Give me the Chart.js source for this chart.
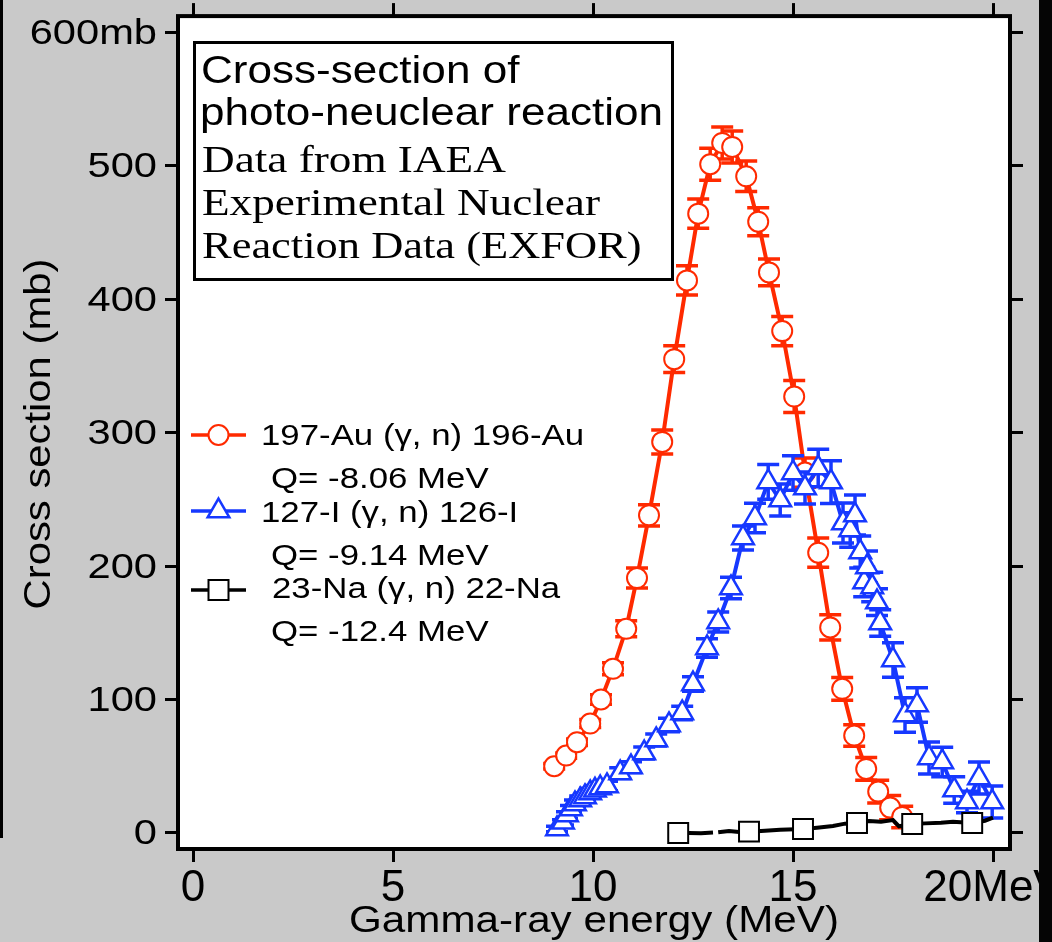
<!DOCTYPE html>
<html>
<head>
<meta charset="utf-8">
<script src="https://cdn.jsdelivr.net/npm/chart.js@4.4.0/dist/chart.umd.min.js"></script>
<style>
  html, body { margin: 0; padding: 0; background: #c9c9c9; }
  #wrap { width: 1052px; height: 942px; }
</style>
</head>
<body>
<div id="wrap"><canvas id="xsec" width="1052" height="942"></canvas></div>
<script>
// Photo-neutron cross sections (EXFOR). Energies in MeV, sigma and errors in mb.

// 197-Au (g, n) 196-Au
const auEnergy = [9.03, 9.33, 9.60, 9.93, 10.20, 10.50, 10.83, 11.10, 11.40, 11.73,
                  12.03, 12.35, 12.63, 12.93, 13.23, 13.48, 13.83, 14.13, 14.40, 14.73,
                  15.03, 15.30, 15.63, 15.93, 16.23, 16.53, 16.83, 17.13, 17.43, 17.73];
const auSigma  = [50, 58, 68, 82, 100, 123, 153, 191, 238, 293,
                  355, 414, 464, 501, 517, 514, 492, 458, 420, 376,
                  327, 270, 210, 154, 108, 73, 48, 31, 19, 12];
const auError  = [2, 2, 2.5, 3, 3.5, 4.5, 6, 7.5, 8, 9,
                  10, 11, 11, 12, 12, 12, 11.5, 10.5, 10, 11,
                  12, 11, 11, 9.5, 8.5, 8, 8.5, 8.5, 9, 8];

// 127-I (g, n) 126-I
const iEnergy = [9.10, 9.25, 9.35, 9.45, 9.55, 9.68, 9.80, 9.93, 10.05, 10.18,
                 10.35, 10.68, 10.95, 11.28, 11.58, 11.90, 12.23, 12.50, 12.85, 13.13,
                 13.45, 13.75, 14.05, 14.38, 14.68, 15.00, 15.30, 15.63, 15.95, 16.25,
                 16.43, 16.55, 16.68, 16.78, 16.85, 16.98, 17.10, 17.18, 17.50, 17.80,
                 18.10, 18.40, 18.73, 19.03, 19.35, 19.65, 19.98];
const iSigma  = [3, 8, 13.5, 18, 21.7, 24.7, 27, 30, 32, 33.7,
                 35.2, 44.9, 49.4, 59.9, 69.7, 80.9, 89.9, 111.6, 138.6, 158.1,
                 183.5, 221, 236, 263, 249.4, 269.7, 258.4, 273.4, 262.9, 232.2,
                 227, 238.2, 210.5, 188, 199.3, 184.3, 173, 157.3, 129.6, 88.4,
                 95.9, 56.2, 53.2, 32.2, 23.2, 41.2, 23.2];
const iError  = [2, 2, 2.5, 2.5, 3, 3, 3, 3.5, 3.5, 3.5,
                 3.5, 4, 4, 4.5, 4.5, 5, 5, 5.5, 7, 7.5,
                 8, 9, 11, 13, 12, 13, 12, 14, 16, 15,
                 13, 15, 12, 11, 12, 11, 10, 10, 13, 13,
                 13, 12, 11, 10, 8, 12, 12];

// 23-Na (g, n) 22-Na, markers only on every few points
const naEnergy = [12.13, 12.40, 12.70, 13.00, 13.06, 13.13, 13.40, 13.65, 13.90, 14.30,
                  14.68, 15.25, 15.60, 16.00, 16.30, 16.60, 16.90, 17.20, 17.50, 17.65,
                  17.98, 18.30, 18.70, 19.00, 19.48, 19.80, 20.00];
const naSigma  = [0, 0, -0.2, 0.3, null, 0.5, 1.5, 0.8, 1.0, 1.7,
                  2.5, 3.0, 4.0, 5.2, 7.0, 7.5, 9.0, 8.5, 9.7, 5.0,
                  6.7, 7.2, 7.7, 8.5, 7.5, 9.2, 11.5];
const naMarked = [0, 8, 11, 15, 20, 24];

// axis ticks
const xTickValues = [0, 5, 10, 15, 20];
const xTickLabels = ['0', '5', '10', '15', '20MeV'];
const yTickValues = [0, 100, 200, 300, 400, 500, 600];
const yTickLabels = ['0', '100', '200', '300', '400', '500', '600mb'];

const RED = '#ff2a00';
const BLUE = '#1638ff';
const SANS = '"Liberation Sans", Arial, Helvetica, sans-serif';
const SERIF = '"Liberation Serif", "Times New Roman", serif';

const toPoints = (xs, ys) => xs.map((x, i) => ({ x: x, y: ys[i] }));

// text helper: glyphs are a bit wider than the stock font, so squeeze/stretch horizontally
function drawText(ctx, str, x, y, font, sx, align, rot) {
    ctx.save();
    ctx.translate(x, y);
    if (rot) ctx.rotate(rot);
    ctx.scale(sx, 1);
    ctx.font = font;
    ctx.fillStyle = '#000';
    ctx.textAlign = align || 'left';
    ctx.textBaseline = 'alphabetic';
    ctx.fillText(str, 0, 0);
    ctx.restore();
}

function marker(ctx, style, x, y, color) {
    ctx.save();
    ctx.fillStyle = '#fff';
    ctx.strokeStyle = color;
    ctx.beginPath();
    if (style === 'circle') {
        ctx.lineWidth = 2;
        ctx.arc(x, y, 10, 0, Math.PI * 2);
    } else if (style === 'triangle') {
        const r = 12.5;
        ctx.lineWidth = 2.5;
        ctx.moveTo(x, y - r);
        ctx.lineTo(x + r * Math.sin(Math.PI * 2 / 3), y + r / 2);
        ctx.lineTo(x - r * Math.sin(Math.PI * 2 / 3), y + r / 2);
        ctx.closePath();
    } else {
        ctx.lineWidth = 2;
        ctx.rect(x - 10, y - 10, 20, 20);
    }
    ctx.fill();
    ctx.stroke();
    ctx.restore();
}

// page background, plot area, info box
const backdrop = {
    id: 'backdrop',
    beforeDraw(chart) {
        const { ctx, chartArea: a } = chart;
        ctx.save();
        ctx.fillStyle = '#c9c9c9';
        ctx.fillRect(0, 0, chart.width, chart.height);
        ctx.fillStyle = '#fff';
        ctx.fillRect(a.left, a.top, a.right - a.left, a.bottom - a.top);
        ctx.fillStyle = '#000';
        ctx.fillRect(0, 0, 3, 838);

        // info box
        ctx.lineWidth = 3;
        ctx.strokeStyle = '#000';
        ctx.strokeRect(194.5, 42.5, 478, 237);
        ctx.restore();
        drawText(ctx, 'Cross-section of', 201, 83, '39px ' + SANS, 1.13);
        drawText(ctx, 'photo-neuclear reaction', 200, 125, '39px ' + SANS, 1.13);
        drawText(ctx, 'Data from IAEA', 202, 172, '38px ' + SERIF, 1.19);
        drawText(ctx, 'Experimental Nuclear', 202, 215, '38px ' + SERIF, 1.19);
        drawText(ctx, 'Reaction Data (EXFOR)', 202, 258, '38px ' + SERIF, 1.17);
    }
};

// vertical error bars with caps, drawn under each dataset's line and markers
const errorBars = {
    id: 'errorBars',
    beforeDatasetDraw(chart, args) {
        const ds = chart.data.datasets[args.index];
        if (!ds.errors) return;
        const { ctx, chartArea: a } = chart;
        const xs = chart.scales.x, ys = chart.scales.y;
        ctx.save();
        ctx.beginPath();
        ctx.rect(a.left, a.top, a.right - a.left, a.bottom - a.top);
        ctx.clip();
        ctx.strokeStyle = ds.borderColor;
        ctx.lineWidth = 3.5;
        ds.data.forEach((p, i) => {
            const e = ds.errors[i];
            if (!e || p.y === null) return;
            const px = xs.getPixelForValue(p.x);
            const top = ys.getPixelForValue(p.y + e);
            const bot = ys.getPixelForValue(p.y - e);
            ctx.beginPath();
            ctx.moveTo(px, top);
            ctx.lineTo(px, bot);
            ctx.moveTo(px - 11, top);
            ctx.lineTo(px + 11, top);
            ctx.moveTo(px - 11, bot);
            ctx.lineTo(px + 11, bot);
            ctx.stroke();
        });
        ctx.restore();
    }
};

// frame, tick labels, axis titles, legend
const decorations = {
    id: 'decorations',
    afterDraw(chart) {
        const { ctx, chartArea: a } = chart;
        ctx.save();
        ctx.lineWidth = 4;
        ctx.strokeStyle = '#000';
        ctx.strokeRect(a.left, a.top, a.right - a.left, a.bottom - a.top);
        ctx.restore();

        const xs = chart.scales.x, ys = chart.scales.y;
        xTickValues.forEach((v, i) => {
            drawText(ctx, xTickLabels[i], xs.getPixelForValue(v), 901, '44px ' + SANS, 1.0, 'center');
        });
        yTickValues.forEach((v, i) => {
            drawText(ctx, yTickLabels[i], 157, ys.getPixelForValue(v) + 11.5, '35px ' + SANS, 1.19, 'right');
        });

        drawText(ctx, 'Gamma-ray energy (MeV)', 594, 932, '37px ' + SANS, 1.14, 'center');
        drawText(ctx, 'Cross section (mb)', 50, 434, '37px ' + SANS, 1.13, 'center', -Math.PI / 2);

        // legend
        const rows = [
            { color: RED, style: 'circle', y: 435, name: '197-Au (\u03b3, n) 196-Au', q: 'Q= -8.06 MeV', nx: 261, ny: 445, qy: 488 },
            { color: BLUE, style: 'triangle', y: 511, name: '127-I (\u03b3, n) 126-I', q: 'Q= -9.14 MeV', nx: 261, ny: 522, qy: 565 },
            { color: '#000', style: 'rect', y: 590, name: '23-Na (\u03b3, n) 22-Na', q: 'Q= -12.4 MeV', nx: 272, ny: 598, qy: 641 }
        ];
        rows.forEach(r => {
            ctx.save();
            ctx.strokeStyle = r.color;
            ctx.lineWidth = 3.5;
            ctx.beginPath();
            ctx.moveTo(191, r.y);
            ctx.lineTo(246, r.y);
            ctx.stroke();
            ctx.restore();
            marker(ctx, r.style, 218.5, r.y, r.color);
            drawText(ctx, r.name, r.nx, r.ny, '29px ' + SANS, 1.2);
            drawText(ctx, r.q, 271, r.qy, '29px ' + SANS, 1.2);
        });

        // edge of the neighbouring panel
        ctx.save();
        ctx.fillStyle = '#050505';
        ctx.fillRect(1039, 0, chart.width - 1039, chart.height);
        ctx.restore();
    }
};

function axis(position, min, max, ticks, size) {
    const horizontal = position === 'top' || position === 'bottom';
    return {
        type: 'linear',
        position: position,
        min: min,
        max: max,
        border: { display: false },
        grid: {
            drawOnChartArea: false,
            drawTicks: true,
            tickLength: 13,
            tickWidth: 3,
            tickColor: '#000'
        },
        ticks: { display: false },
        afterBuildTicks(scale) {
            scale.ticks = ticks.map(v => ({ value: v }));
        },
        afterFit(scale) {
            if (horizontal) scale.height = size; else scale.width = size;
            scale.paddingLeft = scale.paddingRight = scale.paddingTop = scale.paddingBottom = 0;
        }
    };
}

const xMin = -0.375, xMax = 20.425;
const yMin = -12, yMax = 612;

new Chart(document.getElementById('xsec'), {
    type: 'line',
    data: {
        datasets: [
            {
                label: '197-Au (\u03b3, n) 196-Au',
                data: toPoints(auEnergy, auSigma),
                errors: auError,
                borderColor: RED,
                borderWidth: 4,
                pointStyle: 'circle',
                pointRadius: 10,
                pointBorderWidth: 2,
                pointBackgroundColor: '#fff',
                pointBorderColor: RED,
                order: 3
            },
            {
                label: '127-I (\u03b3, n) 126-I',
                data: toPoints(iEnergy, iSigma),
                errors: iError,
                borderColor: BLUE,
                borderWidth: 4,
                pointStyle: 'triangle',
                pointRadius: 12.5,
                pointBorderWidth: 2.5,
                pointBackgroundColor: '#fff',
                pointBorderColor: BLUE,
                order: 2
            },
            {
                label: '23-Na (\u03b3, n) 22-Na',
                data: toPoints(naEnergy, naSigma),
                borderColor: '#000',
                borderWidth: 4,
                spanGaps: false,
                pointStyle: 'rect',
                pointRadius: naEnergy.map((_, i) => naMarked.includes(i) ? 14.1 : 0),
                pointBorderWidth: 2,
                pointBackgroundColor: '#fff',
                pointBorderColor: '#000',
                order: 1
            }
        ]
    },
    options: {
        responsive: false,
        animation: false,
        devicePixelRatio: 1,
        parsing: false,
        layout: { padding: 0 },
        elements: { line: { tension: 0 } },
        plugins: {
            legend: { display: false },
            tooltip: { enabled: false }
        },
        scales: {
            x: axis('bottom', xMin, xMax, xTickValues, 93),
            x2: axis('top', xMin, xMax, xTickValues, 16),
            y: axis('left', yMin, yMax, yTickValues, 178),
            y2: axis('right', yMin, yMax, yTickValues, 42)
        }
    },
    plugins: [backdrop, errorBars, decorations]
});
</script>
</body>
</html>
